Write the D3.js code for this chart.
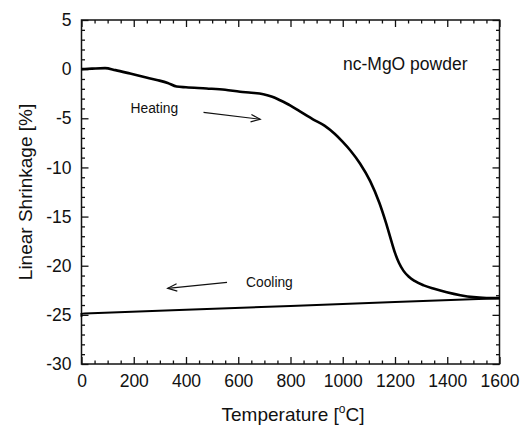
<!DOCTYPE html>
<html>
<head>
<meta charset="utf-8">
<script src="https://cdn.jsdelivr.net/npm/d3@7"></script>
<style>
  body { margin: 0; background: #fff; }
  svg { font-family: "Liberation Sans", Arial, Helvetica, sans-serif; }
</style>
</head>
<body>
<svg width="528" height="427"></svg>
<script>
// heating run
var heatT = [0, 40, 90, 130, 186, 240, 288, 330, 364, 400, 479, 550, 607, 650, 696, 730, 760, 800, 836, 886, 930, 970, 1000, 1030, 1066, 1105, 1140, 1165, 1185, 1200, 1215, 1232, 1252, 1275, 1310, 1350, 1398, 1450, 1500, 1550, 1600];
var heatY = [0, 0.05, 0.1, -0.1, -0.45, -0.8, -1.1, -1.4, -1.77, -1.85, -1.97, -2.1, -2.3, -2.4, -2.55, -2.8, -3.16, -3.7, -4.3, -5.1, -5.75, -6.6, -7.4, -8.3, -9.6, -11.4, -13.6, -15.6, -17.4, -18.7, -19.7, -20.5, -21.1, -21.55, -22.0, -22.35, -22.7, -23.0, -23.2, -23.28, -23.3];
// cooling run
var coolT = [0, 0, 12, 400, 800, 1200, 1600];
var coolY = [-25.2, -24.9, -24.85, -24.48, -24.1, -23.7, -23.3];

var xTicks = [0, 200, 400, 600, 800, 1000, 1200, 1400, 1600];
var yTicks = [5, 0, -5, -10, -15, -20, -25, -30];

var margin = { top: 20, right: 28.5, bottom: 63, left: 81.5 },
  svg_dx = 528,
  svg_dy = 427;

var x = d3.scaleLinear().domain([0, 1600]).range([margin.left, svg_dx - margin.right]),
  y = d3.scaleLinear().domain([-30, 5]).range([svg_dy - margin.bottom, margin.top]);

var svg = d3.select("svg");
var x0 = x.range()[0], x1 = x.range()[1], y0 = y.range()[0], y1 = y.range()[1];

var minorX = d3.range(0, 1601, 50).filter(d => d % 200 !== 0),
  minorY = d3.range(-30, 6, 1).filter(d => d % 5 !== 0);

function tickStyle(g) {
  g.select(".domain").remove();
  g.selectAll("line").attr("stroke", "#111").attr("stroke-width", 1.3);
  g.selectAll("text").attr("fill", "#111").attr("font-size", "17.5px");
}

// bottom axis with labels
svg.append("g")
  .attr("transform", "translate(0," + y0 + ")")
  .call(d3.axisBottom(x).tickValues(xTicks).tickSize(-7).tickPadding(11).tickFormat(d => String(d)))
  .call(tickStyle);
svg.append("g")
  .attr("transform", "translate(0," + y0 + ")")
  .call(d3.axisBottom(x).tickValues(minorX).tickSize(-3.5).tickFormat(""))
  .call(tickStyle);
// top mirror
svg.append("g")
  .attr("transform", "translate(0," + y1 + ")")
  .call(d3.axisTop(x).tickValues(xTicks).tickSize(-7).tickFormat(""))
  .call(tickStyle);
svg.append("g")
  .attr("transform", "translate(0," + y1 + ")")
  .call(d3.axisTop(x).tickValues(minorX).tickSize(-3.5).tickFormat(""))
  .call(tickStyle);

// left axis with labels
svg.append("g")
  .attr("transform", "translate(" + x0 + ",0)")
  .call(d3.axisLeft(y).tickValues(yTicks).tickSize(-7).tickPadding(10).tickFormat(d => String(d)))
  .call(tickStyle);
svg.append("g")
  .attr("transform", "translate(" + x0 + ",0)")
  .call(d3.axisLeft(y).tickValues(minorY).tickSize(-3.5).tickFormat(""))
  .call(tickStyle);
// right mirror
svg.append("g")
  .attr("transform", "translate(" + x1 + ",0)")
  .call(d3.axisRight(y).tickValues(yTicks).tickSize(-7).tickFormat(""))
  .call(tickStyle);
svg.append("g")
  .attr("transform", "translate(" + x1 + ",0)")
  .call(d3.axisRight(y).tickValues(minorY).tickSize(-3.5).tickFormat(""))
  .call(tickStyle);

// frame
svg.append("rect")
  .attr("x", x0).attr("y", y1)
  .attr("width", x1 - x0).attr("height", y0 - y1)
  .attr("fill", "none").attr("stroke", "#111").attr("stroke-width", 1.5);

// curves
var line = d3.line()
  .x(d => x(d[0]))
  .y(d => y(d[1]))
  .curve(d3.curveMonotoneX);

svg.append("path")
  .datum(d3.zip(heatT, heatY))
  .attr("d", line)
  .attr("fill", "none").attr("stroke", "#000").attr("stroke-width", 2.6);

svg.append("path")
  .datum(d3.zip(coolT, coolY))
  .attr("d", d3.line().x(d => x(d[0])).y(d => y(d[1])))
  .attr("fill", "none").attr("stroke", "#000").attr("stroke-width", 2);

// arrows (open V heads)
function arrow(xa, ya, xb, yb) {
  var g = svg.append("g").attr("stroke", "#111").attr("stroke-width", 1.2).attr("fill", "none");
  var ax = x(xa), ay = y(ya), bx = x(xb), by = y(yb);
  g.append("line").attr("x1", ax).attr("y1", ay).attr("x2", bx).attr("y2", by);
  var ang = Math.atan2(by - ay, bx - ax), L = 10, w = 0.38;
  g.append("path")
    .attr("d", "M" + (bx - L * Math.cos(ang - w)) + "," + (by - L * Math.sin(ang - w)) +
      "L" + bx + "," + by +
      "L" + (bx - L * Math.cos(ang + w)) + "," + (by - L * Math.sin(ang + w)));
}
arrow(467, -4.4, 684, -5.1);
arrow(557, -21.7, 330, -22.3);

// annotations
svg.append("text")
  .attr("x", 130.5).attr("y", 113)
  .attr("font-size", "13.8px").attr("fill", "#111")
  .text("Heating");
svg.append("text")
  .attr("x", 246).attr("y", 287)
  .attr("font-size", "13.8px").attr("fill", "#111")
  .text("Cooling");
svg.append("text")
  .attr("x", 343).attr("y", 70)
  .attr("font-size", "17.5px").attr("fill", "#111")
  .text("nc-MgO powder");

// axis titles
var xt = svg.append("text")
  .attr("x", 293).attr("y", 421)
  .attr("text-anchor", "middle")
  .attr("font-size", "19px").attr("fill", "#111");
xt.append("tspan").text("Temperature [");
xt.append("tspan").attr("font-size", "12px").attr("dy", "-8").text("o");
xt.append("tspan").attr("dy", "8").text("C]");

svg.append("text")
  .attr("transform", "translate(32," + ((y0 + y1) / 2) + ") rotate(-90)")
  .attr("text-anchor", "middle")
  .attr("font-size", "19px").attr("fill", "#111")
  .text("Linear Shrinkage [%]");
</script>
</body>
</html>
